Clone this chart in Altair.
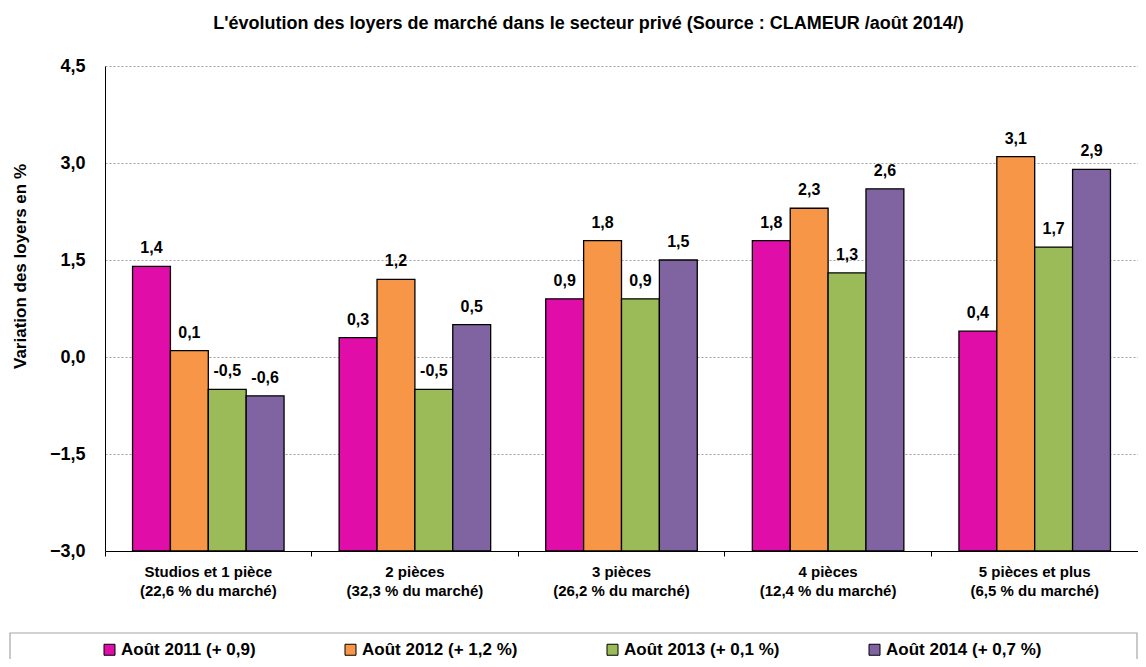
import altair as alt
import pandas as pd

categories = [
    "Studios et 1 pièce\n(22,6 % du marché)",
    "2 pièces\n(32,3 % du marché)",
    "3 pièces\n(26,2 % du marché)",
    "4 pièces\n(12,4 % du marché)",
    "5 pièces et plus\n(6,5 % du marché)",
]
series = ["Août 2011 (+ 0,9)", "Août 2012 (+ 1,2 %)", "Août 2013 (+ 0,1 %)", "Août 2014 (+ 0,7 %)"]
v2011 = [1.4, 0.3, 0.9, 1.8, 0.4]
v2012 = [0.1, 1.2, 1.8, 2.3, 3.1]
v2013 = [-0.5, -0.5, 0.9, 1.3, 1.7]
v2014 = [-0.6, 0.5, 1.5, 2.6, 2.9]
colors = ["#E10DA8", "#F79646", "#9BBB59", "#8064A2"]
y_ticks = [-3.0, -1.5, 0.0, 1.5, 3.0, 4.5]
y_domain = [-3.0, 4.5]

rows = []
for s, vals in zip(series, [v2011, v2012, v2013, v2014]):
    for c, v in zip(categories, vals):
        rows.append({"cat": c, "serie": s, "val": v, "label": f"{v:.1f}".replace(".", ",")})
df = pd.DataFrame(rows)

FONT = "Liberation Sans, Arial, sans-serif"
W, H = 1033, 485

x_enc = alt.X(
    "cat:N", sort=categories,
    scale=alt.Scale(paddingInner=0, paddingOuter=0),
    axis=alt.Axis(
        title=None, labelAngle=0, bandPosition=0,
        labelExpr="split(datum.label, '\\n')",
        tickSize=5, tickColor="black", domainColor="black",
        labelFont=FONT, labelFontSize=15, labelFontWeight="bold", labelColor="black",
        labelPadding=8, labelLineHeight=19, labelBaseline="top", grid=False,
    ),
)
xoff_enc = alt.XOffset("serie:N", sort=series, scale=alt.Scale(paddingInner=0, paddingOuter=0.727))
y_enc = alt.Y(
    "val:Q",
    scale=alt.Scale(domain=y_domain, zero=False, nice=False),
    axis=alt.Axis(
        values=y_ticks, title="Variation des loyers en %",
        grid=True, gridDash=[2, 2], gridColor="#A0A0A0", gridWidth=1,
        ticks=False, domainColor="black",
        labelExpr="replace(format(datum.value, '.1f'), '.', ',')",
        labelFont=FONT, labelFontSize=18, labelFontWeight="bold", labelColor="black",
        labelPadding=20,
        titleFont=FONT, titleFontSize=17, titleFontWeight="bold", titleColor="black",
        titleX=-76, titleY=200,
    ),
)

bars = alt.Chart(df).mark_bar(stroke="black", strokeWidth=1.3).encode(
    x=x_enc,
    xOffset=xoff_enc,
    y=y_enc,
    y2=alt.datum(-3.0),
    color=alt.Color(
        "serie:N", sort=series,
        scale=alt.Scale(domain=series, range=colors),
        legend=alt.Legend(
            title=None, orient="none", legendX=-4, legendY=575,
            direction="horizontal", columns=4, columnPadding=86,
            symbolType="square", symbolSize=121, symbolStrokeColor="black",
            symbolStrokeWidth=1, symbolOpacity=1,
            labelFont=FONT, labelFontSize=17, labelFontWeight="bold", labelColor="black",
            labelOffset=3,
        ),
    ),
)

texts = alt.Chart(df).mark_text(
    dy=-13, baseline="alphabetic", font=FONT, fontSize=16, fontWeight="bold", color="black"
).encode(x=x_enc, xOffset=xoff_enc, y=alt.Y("val:Q"), text="label:N")

frame = alt.Chart(pd.DataFrame({"k": [0]})).mark_rect(
    filled=False, stroke="#A6A6A6", strokeWidth=1.2
).encode(x=alt.value(-95), x2=alt.value(1032), y=alt.value(567), y2=alt.value(640))

chart = alt.layer(frame, bars, texts).properties(
    width=W, height=H,
    autosize=alt.AutoSizeParams(type="none"),
    padding={"left": 97, "top": 58, "right": 0, "bottom": 108},
    title=alt.Title(
        "L'évolution des loyers de marché dans le secteur privé (Source : CLAMEUR /août 2014/)",
        font=FONT, fontSize=18, fontWeight="bold", color="black",
        anchor="middle", dx=-33, offset=24,
    ),
).configure_view(stroke=None)

chart.save("out.html", embed_options={"renderer": "svg", "actions": False})
